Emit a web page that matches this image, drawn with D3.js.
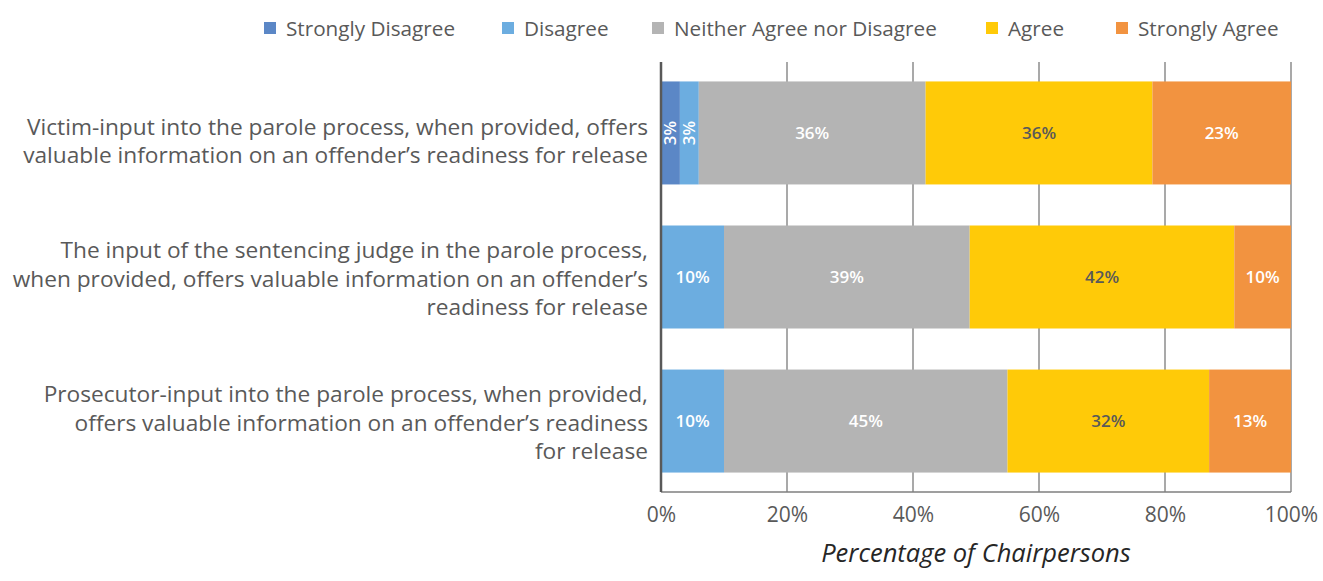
<!DOCTYPE html>
<html>
<head>
<meta charset="utf-8">
<script src="https://cdn.jsdelivr.net/npm/d3@7"></script>
<style>
  html, body { margin: 0; padding: 0; background: #fff; }
  svg { display: block; font-family: "Open Sans", Lato, sans-serif; }
</style>
</head>
<body>
<svg id="chart" width="1323" height="581"></svg>
<script>
// Survey statements (one bar each), top to bottom
const statements = [
  ["Victim-input into the parole process, when provided, offers",
   "valuable information on an offender\u2019s readiness for release"],
  ["The input of the sentencing judge in the parole process,",
   "when provided, offers valuable information on an offender\u2019s",
   "readiness for release"],
  ["Prosecutor-input into the parole process, when provided,",
   "offers valuable information on an offender\u2019s readiness",
   "for release"]
];

// Response categories
const responses = ["Strongly Disagree", "Disagree", "Neither Agree nor Disagree", "Agree", "Strongly Agree"];

// Share of chairpersons (%) per response, one array per category, in statement order
const stronglyDisagree = [3, 0, 0];
const disagree         = [3, 10, 10];
const neither          = [36, 39, 45];
const agree            = [36, 42, 32];
const stronglyAgree    = [23, 10, 13];

const xTicks = [0, 20, 40, 60, 80, 100];

const colors = ["#5b87c6", "#6cade0", "#b4b4b4", "#ffca08", "#f29340"];
const labelColors = ["#ffffff", "#ffffff", "#ffffff", "#595959", "#ffffff"];

const seriesValues = [stronglyDisagree, disagree, neither, agree, stronglyAgree];
const rows = statements.map((s, i) => {
  const r = { id: i };
  responses.forEach((k, j) => { r[k] = seriesValues[j][i]; });
  return r;
});

const svg = d3.select("#chart");
const margin = { left: 661, right: 32, top: 62, bottom: 89 };
const W = 1323, H = 581;

// rounded shares can sum past 100%, so the axis clips at its end
const x = d3.scaleLinear().domain([0, 100]).range([margin.left, W - margin.right]).clamp(true);
const y = d3.scaleBand().domain(d3.range(statements.length))
  .range([margin.top, H - margin.bottom]).paddingInner(0.285).paddingOuter(0.135);

const textColor = "#595959";

// vertical gridlines
svg.append("g").selectAll("line").data(xTicks.slice(1)).join("line")
  .attr("x1", d => x(d)).attr("x2", d => x(d))
  .attr("y1", margin.top).attr("y2", H - margin.bottom)
  .attr("stroke", "#8c8c8c").attr("stroke-width", 1.5);

// stacked bars
const stack = d3.stack().keys(responses);
const layers = stack(rows);

const layerG = svg.append("g").selectAll("g").data(layers).join("g")
  .attr("fill", (d, i) => colors[i]);

layerG.selectAll("rect").data(d => d.filter(p => p[1] - p[0] > 0)).join("rect")
  .attr("x", d => x(d[0]))
  .attr("width", d => x(d[1]) - x(d[0]))
  .attr("y", d => y(d.data.id))
  .attr("height", y.bandwidth());

// value labels (rotated when the segment is too thin)
const fmt = v => Math.round(v) + "%";
layers.forEach((layer, li) => {
  layer.forEach(p => {
    const v = p[1] - p[0];
    if (v <= 0) return;
    const cx = (x(p[0]) + x(p[1])) / 2;
    const cy = y(p.data.id) + y.bandwidth() / 2;
    const narrow = x(p[1]) - x(p[0]) < 30;
    svg.append("text")
      .attr("transform", narrow ? `translate(${cx},${cy}) rotate(-90)` : `translate(${cx},${cy})`)
      .attr("text-anchor", "middle")
      .attr("dy", "0.35em")
      .attr("font-size", 17)
      .attr("font-weight", 600)
      .attr("fill", labelColors[li])
      .text(fmt(v));
  });
});

// axes lines
svg.append("line")
  .attr("x1", x(0)).attr("x2", x(100))
  .attr("y1", H - margin.bottom).attr("y2", H - margin.bottom)
  .attr("stroke", "#7f7f7f").attr("stroke-width", 1.5);
svg.append("line")
  .attr("x1", x(0)).attr("x2", x(0))
  .attr("y1", margin.top).attr("y2", H - margin.bottom)
  .attr("stroke", "#595959").attr("stroke-width", 2.5);

// x tick labels
const xAxis = d3.axisBottom(x).tickValues(xTicks).tickFormat(d => d + "%").tickSize(0).tickPadding(15);
const xg = svg.append("g").attr("transform", `translate(0,${H - margin.bottom})`).call(xAxis);
xg.select(".domain").remove();
xg.selectAll("text").attr("font-size", 21).attr("fill", textColor)
  .attr("font-family", "'Open Sans', sans-serif");

// x axis title
svg.append("text")
  .attr("x", (x(0) + x(100)) / 2 + 0).attr("y", 562)
  .attr("text-anchor", "middle")
  .attr("font-size", 25.5).attr("font-style", "italic")
  .attr("fill", "#262626")
  .text("Percentage of Chairpersons");

// statement labels, right-aligned against the axis
const lineH = 28.5;
const labelNudge = [8, 2, 2];
statements.forEach((lines, i) => {
  const cy = y(i) + y.bandwidth() / 2 + labelNudge[i];
  lines.forEach((ln, k) => {
    svg.append("text")
      .attr("text-anchor", "end")
      .attr("font-size", 22.7)
      .attr("fill", textColor)
      .attr("x", 648)
      .attr("y", cy + (k - (lines.length - 1) / 2) * lineH)
      .attr("dy", "0.35em")
      .text(ln);
  });
});

// legend
const legendX = [264, 502, 652, 986, 1116];
const legend = svg.append("g").selectAll("g").data(responses).join("g")
  .attr("transform", (d, i) => `translate(${legendX[i]},29)`);
legend.append("rect").attr("x", 0).attr("y", -7).attr("width", 12).attr("height", 12)
  .attr("fill", (d, i) => colors[i]);
legend.append("text").attr("x", 22).attr("dy", "0.35em")
  .attr("font-size", 20.7).attr("fill", textColor).text(d => d);
</script>
</body>
</html>
